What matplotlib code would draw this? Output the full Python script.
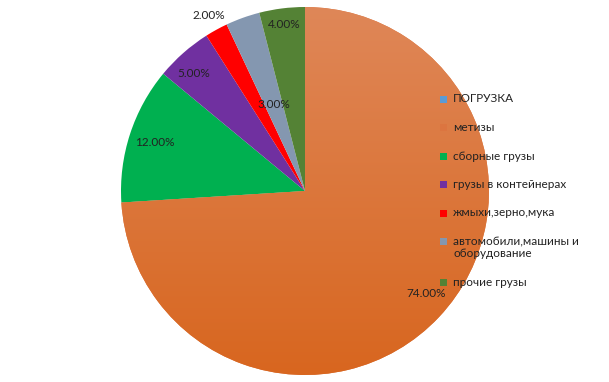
import matplotlib
matplotlib.use('Agg')
import matplotlib.pyplot as plt
import numpy as np
from matplotlib.colors import LinearSegmentedColormap
from matplotlib.patches import Rectangle

plt.rcParams['font.family'] = ['Lato', 'DejaVu Sans']

categories = ['ПОГРУЗКА', 'метизы', 'сборные грузы', 'грузы в контейнерах',
              'жмыхи,зерно,мука', 'автомобили,машины и\nоборудование', 'прочие грузы']
values = [0, 74, 12, 5, 2, 3, 4]
colors = ['#5B9BD5', '#DC7540', '#00B050', '#7030A0', '#FF0000', '#8497B0', '#548235']
label_dist = [0, 0.865, 0.86, 0.88, 1.09, 0.50, 0.91]
label_dang = [0, 3.0, 0, 2.0, 0, 0, 0]

W, H = 609, 382
fig = plt.figure(figsize=(W / 100, H / 100), dpi=100)
ax = fig.add_axes([0, 0, 1, 1])
cx, cy, R = 305, H - 191, 184

wedges, _ = ax.pie(values, colors=colors, startangle=90, counterclock=False,
                   center=(cx, cy), radius=R, wedgeprops=dict(linewidth=0))

# gradient on the big slice
w = wedges[1]
grad = np.linspace(0, 1, 256).reshape(-1, 1)
cmap = LinearSegmentedColormap.from_list('g', ['#DF8758', '#D8661F'])
im = ax.imshow(grad, extent=(cx - R, cx + R, cy - R, cy + R), origin='upper',
               cmap=cmap, aspect='auto', zorder=1.5)
im.set_clip_path(w)

txt_color = '#222222'
for wd, v, d, da in zip(wedges, values, label_dist, label_dang):
    if v == 0:
        continue
    mid = np.deg2rad((wd.theta1 + wd.theta2) / 2 + da)
    x = cx + R * d * np.cos(mid)
    y = cy + R * d * np.sin(mid)
    ax.text(x, y, f'{v:.2f}%', ha='center', va='center', fontsize=8.5,
            color=txt_color, zorder=3)

# legend
ly = H - 99
for cat, col in zip(categories, colors):
    ax.add_patch(Rectangle((440, ly - 3.5), 7, 7, facecolor=col, edgecolor='none', zorder=4))
    lines = cat.split('\n')
    for k, line in enumerate(lines):
        ax.text(453, ly - 12 * k, line, ha='left', va='center', fontsize=8.5,
                color=txt_color, zorder=4)
    ly -= 28.5 + 12 * (len(lines) - 1)

ax.set_xlim(0, W)
ax.set_ylim(0, H)
ax.set_aspect('auto')
ax.axis('off')
fig.savefig('out.png', dpi=100)
